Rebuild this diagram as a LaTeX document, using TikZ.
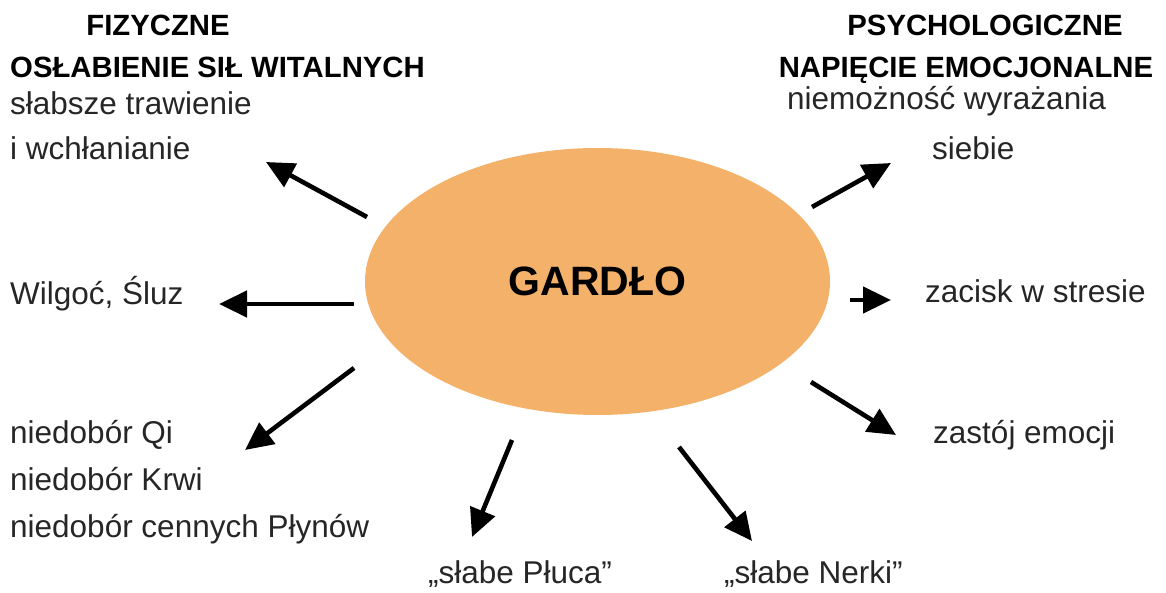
\documentclass[tikz,border=0pt]{standalone}
\usepackage{fontspec}
\setmainfont{Liberation Sans}
\usetikzlibrary{shapes.geometric,arrows.meta}
\definecolor{gorange}{HTML}{F4B16A}
\tikzset{
  txt/.style={inner sep=0pt, anchor=base west, font=\fontsize{31.5}{36}\selectfont, text=black!85},
  head/.style={inner sep=0pt, anchor=base, font=\fontsize{29.3}{34}\selectfont\bfseries},
  arr/.style={line width=4.6pt, -{Triangle[length=28pt,width=26pt]}},
  hub/.style={ellipse, fill=gorange, inner sep=0pt, minimum width=465pt, minimum height=267pt, font=\fontsize{41}{48}\selectfont\bfseries}
}
\begin{document}
\begin{tikzpicture}[x=1pt,y=-1pt]
\useasboundingbox (0,0) rectangle (1166,593);
% hub
\node[hub] (g) at (597.5,281.5) {GARDŁO};
% headings
\node[head] (h1) at (158,36) {FIZYCZNE};
\node[head] (h2) at (217.5,78) {OSŁABIENIE SIŁ WITALNYCH};
\node[head] (h3) at (985,36) {PSYCHOLOGICZNE};
\node[head] (h4) at (966,78) {NAPIĘCIE EMOCJONALNE};
% left texts
\node[txt] (t1) at (10,115) {słabsze trawienie};
\node[txt] (t2) at (10,160) {i wchłanianie};
\node[txt] (t3) at (10,305) {Wilgoć, Śluz};
\node[txt] (t4) at (10,443) {niedobór Qi};
\node[txt] (t5) at (10,490) {niedobór Krwi};
\node[txt] (t6) at (10,537) {niedobór cennych Płynów};
% bottom texts
\node[txt] (b1) at (428,583) {„słabe Płuca”};
\node[txt] (b2) at (724,583) {„słabe Nerki”};
% right texts
\node[txt] (r1) at (787,110) {niemożność wyrażania};
\node[txt] (r2) at (932,160) {siebie};
\node[txt] (r3) at (925,302) {zacisk w stresie};
\node[txt] (r4) at (933,443) {zastój emocji};
% arrow coordinates
\coordinate (a1s) at (367,217);
\coordinate (a1e) at (266,162);
\coordinate (a2s) at (354,304);
\coordinate (a2e) at (219,304);
\coordinate (a3s) at (354,368);
\coordinate (a3e) at (245,450);
\coordinate (a4s) at (512,440);
\coordinate (a4e) at (472,537);
\coordinate (a5s) at (679,447);
\coordinate (a5e) at (752,541);
\coordinate (a6s) at (811,382);
\coordinate (a6e) at (896,435);
\coordinate (a7s) at (850,300);
\coordinate (a7e) at (891,300);
\coordinate (a8s) at (812,207);
\coordinate (a8e) at (891,163);
\draw[arr] (a1s) -- (a1e);
\draw[arr] (a2s) -- (a2e);
\draw[arr] (a3s) -- (a3e);
\draw[arr] (a4s) -- (a4e);
\draw[arr] (a5s) -- (a5e);
\draw[arr] (a6s) -- (a6e);
\draw[arr] (a7s) -- (a7e);
\draw[arr] (a8s) -- (a8e);
\end{tikzpicture}
\end{document}
